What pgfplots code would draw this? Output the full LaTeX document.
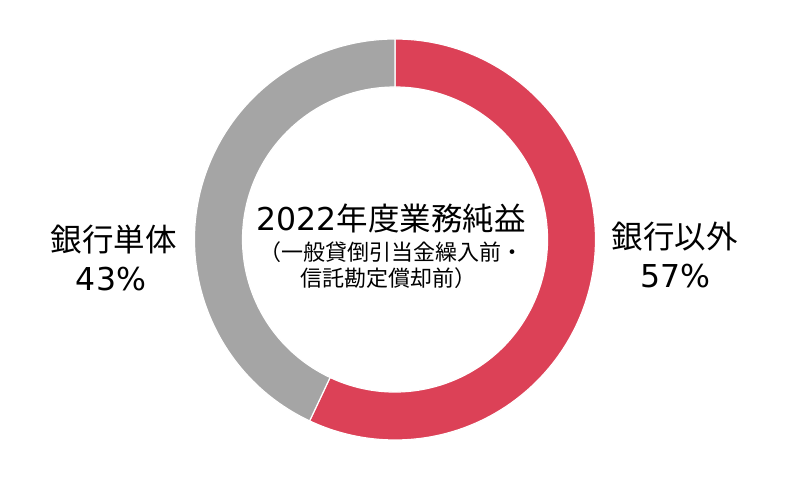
\documentclass[border=0pt]{standalone}
\usepackage{fontspec}
\setmainfont{Noto Sans CJK JP}
\newfontfamily\digits{DejaVu Sans}
\usepackage{pgfplots}
\usepackage{pgfplotstable}
\pgfplotsset{compat=1.18}

\definecolor{sliceRed}{RGB}{220,65,87}
\definecolor{sliceGray}{RGB}{165,165,165}

% share of 2022 business profit, percent, clockwise from 12 o'clock
\pgfplotstableread{
x y start share
395 260.5 0 57
}\otherTable
\pgfplotstableread{
x y start share
395 260.5 57 43
}\bankTable

\pgfplotsset{
  slice/.style={
    only marks, scatter, mark=*, mark size=0pt,
    visualization depends on={\thisrow{start}\as\st},
    visualization depends on={\thisrow{share}\as\sh},
    scatter/@pre marker code/.code={
      \pgfmathsetmacro\aa{90-3.6*\st}
      \pgfmathsetmacro\ab{90-3.6*(\st+\sh)}
      \filldraw[fill=#1, draw=white, line width=1.2pt]
        (\aa:200.5pt) arc[start angle=\aa, end angle=\ab, radius=200.5pt]
        -- (\ab:152.5pt) arc[start angle=\ab, end angle=\aa, radius=152.5pt]
        -- cycle;
    },
    scatter/@post marker code/.code={},
  },
}
\tikzset{
  big/.style={font=\fontsize{31.5}{36}\selectfont},
  small/.style={font=\fontsize{22}{26}\selectfont},
}

\begin{document}
\begin{tikzpicture}
\begin{axis}[
    hide axis,
    x=1pt, y=1pt,
    xmin=0, xmax=800, ymin=0, ymax=500,
    scale only axis,
    clip=false,
]
\path (axis cs:0,0) rectangle (axis cs:800,500);
\addplot[slice=sliceRed] table[x=x, y=y] {\otherTable};
\addplot[slice=sliceGray] table[x=x, y=y] {\bankTable};

\node[big] at (axis cs:113.5,260) {銀行単体};
\node[big] at (axis cs:111,221) {\digits 43\%};
\node[big] at (axis cs:674.5,263) {銀行以外};
\node[big] at (axis cs:675,223.5) {\digits 57\%};

\node[big] at (axis cs:391,281) {{\digits 2022}年度業務純益};
\node[small] at (axis cs:391,248) {（一般貸倒引当金繰入前・};
\node[small] at (axis cs:388,222) {信託勘定償却前）};
\end{axis}
\end{tikzpicture}
\end{document}
